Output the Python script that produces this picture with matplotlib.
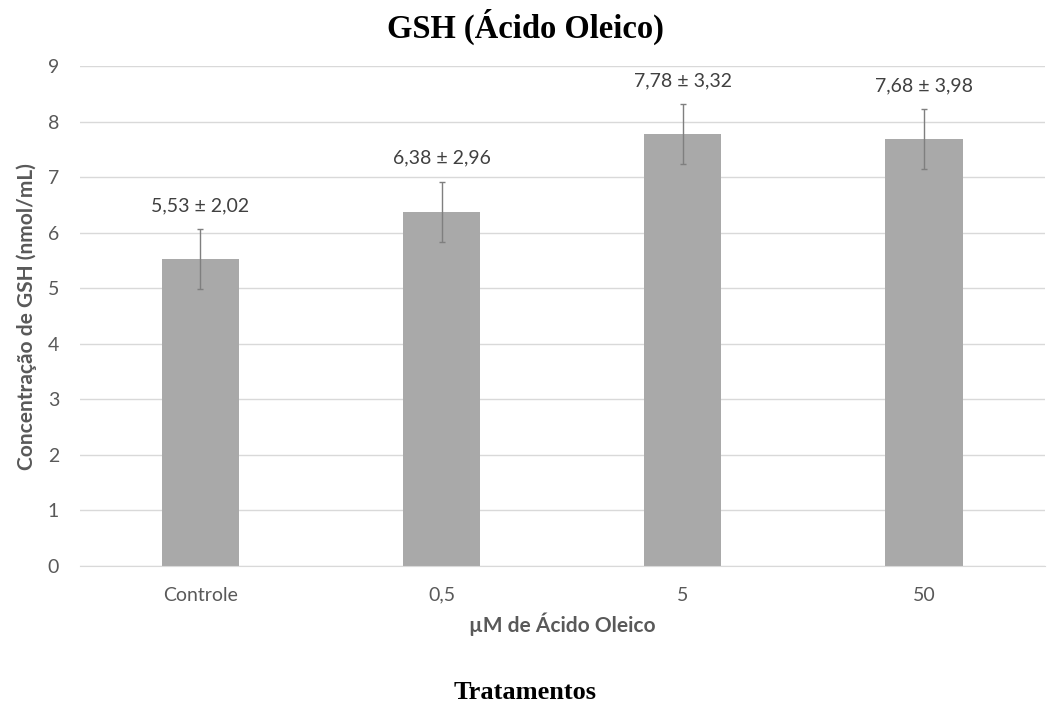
import numpy as np
import matplotlib
matplotlib.use("Agg")
import matplotlib.pyplot as plt

# data
groups = ["Controle", "0,5", "5", "50"]
means = [5.53, 6.38, 7.78, 7.68]
sds = [2.02, 2.96, 3.32, 3.98]
err = [0.54, 0.54, 0.54, 0.54]   # drawn error bar half-length

gray_txt = "#595959"
plt.rcParams['font.family'] = ['Lato', 'DejaVu Sans']

fig = plt.figure(figsize=(10.51, 7.04), dpi=100)
ax = fig.add_axes([0.076, 0.196, 0.918, 0.710])

x = np.arange(len(groups))
ax.bar(x, means, width=0.32, color="#a9a9a9", zorder=2)
ax.errorbar(x, means, yerr=err, fmt="none", ecolor="#7f7f7f",
            elinewidth=1.0, capsize=2.5, capthick=1.0, zorder=3)

for i in range(len(groups)):
    lab = ("%.2f ± %.2f" % (means[i], sds[i])).replace(".", ",")
    ax.text(x[i], means[i] + err[i] + 0.42, lab, ha="center", va="center",
            fontsize=14, color="#404040")

ax.set_xlim(-0.5, len(groups) - 0.5)
ax.set_ylim(0, 9)
ax.set_yticks(range(0, 10))
ax.set_xticks(x)
ax.set_xticklabels(groups)
ax.tick_params(axis="both", length=0, labelsize=14, colors=gray_txt)
ax.tick_params(axis="x", pad=15)
ax.tick_params(axis="y", pad=15)
ax.grid(axis="y", color="#d9d9d9", linewidth=1.0, zorder=0)
for s in ["top", "right", "left"]:
    ax.spines[s].set_visible(False)
ax.spines["bottom"].set_color("#d9d9d9")

ax.set_ylabel("Concentração de GSH (nmol/mL)", fontsize=15, fontweight="bold",
              color=gray_txt, labelpad=8)
ax.set_xlabel("µM de Ácido Oleico", fontsize=15, fontweight="bold",
              color=gray_txt, labelpad=6)

fig.text(0.5, 0.946, "GSH (Ácido Oleico)", ha="center", va="baseline",
         fontsize=23.5, fontweight="bold", family="Liberation Serif")
fig.text(0.5, 0.007, "Tratamentos", ha="center", va="baseline",
         fontsize=19, fontweight="bold", family="Liberation Serif")

fig.savefig("out.png", dpi=100)
